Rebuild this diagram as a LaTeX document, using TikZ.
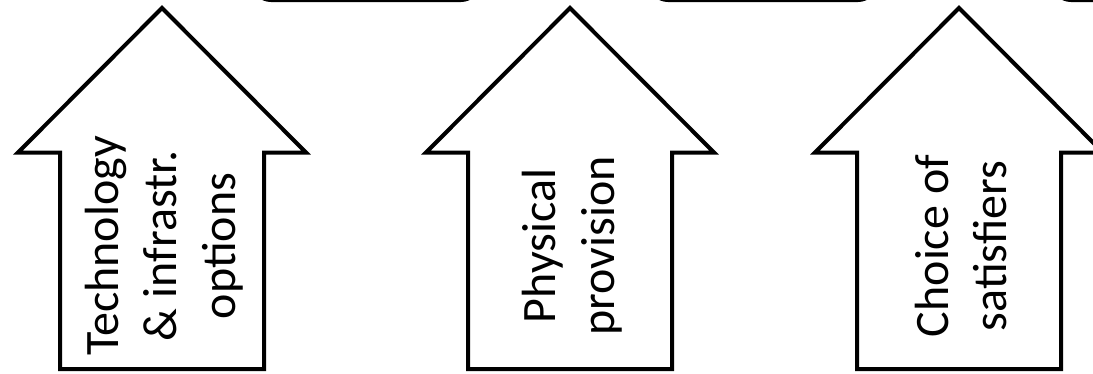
\documentclass[tikz,border=0pt]{standalone}
\usepackage{fontspec}
\setmainfont{Carlito}
\begin{document}
\begin{tikzpicture}[x=1pt,y=-1pt,line join=miter,
  uparrow/.style={draw=black,line width=4pt,fill=white},
  lbl/.style={rotate=90,align=center,font=\fontsize{48}{58.6}\selectfont,inner sep=0pt},
  topbox/.style={draw=black,line width=4pt,rounded corners=18pt}]
\useasboundingbox (0,0) rectangle (1093,373);
\clip (0,0) rectangle (1093,373);
% partly visible boxes at the top
\foreach \c/\n in {366/b1,763/b2,1166/b3}
  \draw[topbox] (\c-113,-120) rectangle (\c+113,0);
% arrows
\foreach \c in {162,570,959}
  \draw[uparrow] (\c-102,369) -- (\c-102,152.5) -- (\c-144,152.5) -- (\c,8)
     -- (\c+144,152.5) -- (\c+102,152.5) -- (\c+102,369) -- cycle;
\node[lbl] (t1) at (164,246) {Technology\\\& infrastr.\\options};
\node[lbl] (t2) at (572,246) {Physical\\provision};
\node[lbl] (t3) at (961,246) {Choice of\\satisfiers};
\end{tikzpicture}
\end{document}
